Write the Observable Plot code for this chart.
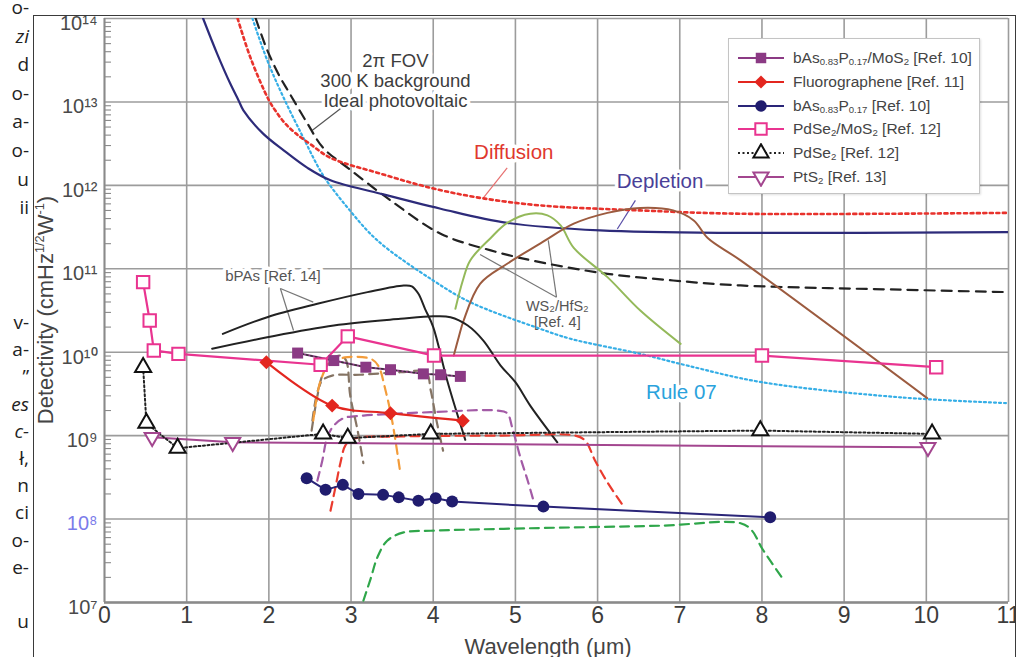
<!DOCTYPE html>
<html>
<head>
<meta charset="utf-8">
<script src="https://cdn.jsdelivr.net/npm/d3@7"></script>
<script src="https://cdn.jsdelivr.net/npm/@observablehq/plot@0.6"></script>
<style>
  html, body { margin: 0; padding: 0; background: #fff; }
  body { width: 1033px; height: 657px; overflow: hidden; position: relative; font-family: "Liberation Sans", Arial, sans-serif; }
  .article { position: absolute; left: 0; width: 29px; text-align: right; font-family: "Open Sans", "Noto Sans", sans-serif; font-size: 19px; color: #222; white-space: nowrap; }
  #frame { position: absolute; left: 33px; top: 15px; width: 981px; height: 700px; border: 1px solid #3a3a3a; overflow: hidden; background: #fff; }
  #inner { position: absolute; left: -34px; top: -16px; width: 1033px; height: 657px; }
  #chart { position: absolute; left: 0; top: 0; }
  #legend { position: absolute; left: 728px; top: 38px; width: 250px; height: 154px; border: 1px solid #c4c4c4; background: #fff; box-shadow: 1px 1px 2px rgba(0,0,0,0.12); }
  .lrow { position: absolute; left: 0; height: 20px; width: 250px; }
  .lrow svg { position: absolute; left: 8px; top: 0; }
  .lrow span { position: absolute; left: 64px; top: 1px; font-size: 15.5px; color: #444; white-space: nowrap; line-height: 18px; }
  .lrow sub { font-size: 62%; vertical-align: -2px; line-height: 0; }
  .ytitle { position: absolute; left: 46px; top: 310px; transform: translate(-50%, -50%) rotate(-90deg); white-space: nowrap; font-size: 22px; color: #444; }
  .ytitle sup { font-size: 58%; vertical-align: 9px; line-height: 0; }
  .xtitle { position: absolute; left: 548px; top: 647px; transform: translate(-50%, -50%); white-space: nowrap; font-size: 22px; color: #444; }
</style>
</head>
<body>
<div class="article" id="artTop" style="top:-7px; line-height:28.6px;"></div>
<div class="article" id="artBottom" style="top:309px; line-height:27.2px;"></div>
<div id="frame">
  <div id="inner">
    <div id="chart"></div>
    <div id="legend"></div>
    <div class="ytitle">Detectivity (cmHz<sup>1/2</sup>W<sup>-1</sup>)</div>
    <div class="xtitle">Wavelength (μm)</div>
  </div>
</div>
<script>
// ---------- cropped article text on the left ----------
const articleTop = ["o-", "<i>zi</i>", "d", "o-", "a-", "o-", "u", "ii"];
const articleBottom = ["v-", "a-", "”", "<i>es</i>", "<i>c-</i>", "ł,", "n", "ci", "o-", "e-", "", "u"];

// ---------- axes ----------
const xTickValues = [0, 1, 2, 3, 4, 5, 6, 7, 8, 9, 10, 11];
const yTickValues = [1e7, 1e8, 1e9, 1e10, 1e11, 1e12, 1e13, 1e14];

// ---------- theoretical limits (wavelength µm, D* cmHz^1/2 W^-1) ----------
const depletion = [[1.20,1e14],[1.37,3.8e13],[1.53,1.66e13],[1.63,1.05e13],[1.69,7.94e12],[1.93,4.17e12],[2.18,2.63e12],[2.47,1.62e12],[2.75,1.15e12],[3.36,7.94e11],[4.09,5.25e11],[4.90,3.55e11],[6.03,2.88e11],[7.74,2.69e11],[11.0,2.75e11]];
const diffusion = [[1.62,1e14],[1.78,3.31e13],[2.0,1.05e13],[2.09,7.59e12],[2.20,5.5e12],[2.33,4.17e12],[2.51,3.09e12],[2.75,2.14e12],[3.36,1.38e12],[3.97,9.33e11],[4.57,7.08e11],[5.30,5.75e11],[6.52,5.01e11],[7.74,4.57e11],[11.0,4.68e11]];
const idealPV = [[1.84,1e14],[1.98,4.17e13],[2.14,1.95e13],[2.23,1.38e13],[2.47,5.5e12],[2.66,2.82e12],[2.96,1.62e12],[3.48,6.61e11],[4.09,2.63e11],[4.70,1.66e11],[5.30,1.2e11],[6.12,8.71e10],[6.92,7.24e10],[7.74,6.31e10],[9.68,5.62e10],[11.0,5.25e10]];
const rule07 = [[1.80,1e14],[1.98,3.16e13],[2.18,1.12e13],[2.42,3.72e12],[2.66,1.32e12],[2.96,5.37e11],[3.32,2.19e11],[4.0,7.24e10],[4.45,3.98e10],[5.30,1.91e10],[5.67,1.45e10],[6.52,9.55e9],[7.09,6.92e9],[8.0,4.37e9],[9.68,2.88e9],[11.0,2.45e9]];

// ---------- reference curves ----------
const bpasUpper = [[1.44,1.66e10],[1.98,2.63e10],[2.59,3.8e10],[3.20,5.25e10],[3.64,6.31e10],[3.74,6.17e10],[3.82,5.01e10],[3.90,3.31e10],[4.0,2.0e10],[4.17,4.57e9],[4.39,8.91e8]];
const bpasLower = [[1.31,1.1e10],[1.98,1.51e10],[2.79,2.09e10],[3.60,2.51e10],[4.0,2.69e10],[4.21,2.63e10],[4.42,2.09e10],[4.61,1.38e10],[4.82,6.92e9],[5.0,4.37e9],[5.18,2.29e9],[5.51,8.32e8]];
const ws2 = [[4.27,3.31e10],[4.36,7.24e10],[4.45,1.26e11],[4.70,2.34e11],[4.90,3.55e11],[5.18,4.57e11],[5.39,4.37e11],[5.55,3.31e11],[5.71,1.78e11],[6.12,7.94e10],[6.52,3.16e10],[7.01,1.26e10]];
const hfs2 = [[4.25,9.12e9],[4.31,1.51e10],[4.37,2.4e10],[4.57,6.61e10],[4.90,1.15e11],[5.30,2.0e11],[5.71,3.47e11],[6.12,4.68e11],[6.52,5.37e11],[6.92,5.01e11],[7.17,3.8e11],[7.34,2.34e11],[7.74,1.26e11],[10.01,2.82e9]];
const dashOrange = [[2.54,1.51e9],[2.63,4.57e9],[2.75,7.59e9],[2.96,8.71e9],[3.24,8.32e9],[3.33,6.92e9],[3.42,3.47e9],[3.50,1.51e9],[3.60,3.55e8]];
const dashGrayA = [[2.53,1.51e9],[2.58,3.02e9],[2.65,4.57e9],[2.77,5.25e9],[3.11,5.37e9],[3.60,5.75e9],[3.91,5.75e9],[3.97,3.47e9],[4.04,1.51e9],[4.12,6.61e8]];
const dashGrayB = [[2.52,1.15e9],[2.58,2.63e9],[2.65,5.25e9],[2.75,7.94e9],[2.87,9.12e9],[2.94,7.94e9],[2.99,3.02e9],[3.08,1.15e9],[3.15,4.68e8]];
const dashPurple = [[2.59,2.88e8],[2.65,5.01e8],[2.71,9.55e8],[2.79,1.32e9],[2.91,1.62e9],[3.15,1.74e9],[3.97,1.91e9],[4.78,2.0e9],[4.90,1.86e9],[4.96,1.26e9],[5.06,5.5e8],[5.15,2.88e8],[5.22,1.66e8]];
const dashRed = [[2.75,1.26e8],[2.81,2.4e8],[2.87,4.68e8],[2.93,7.59e8],[3.02,9.12e8],[3.60,9.77e8],[4.82,1e9],[5.73,1e9],[5.85,8.71e8],[5.97,5.01e8],[6.12,2.75e8],[6.31,1.45e8]];
const dashGreen = [[3.15,1.05e7],[3.24,1.95e7],[3.32,3.47e7],[3.44,5.5e7],[3.64,6.92e7],[3.97,7.24e7],[5.18,7.76e7],[6.76,8.32e7],[7.74,8.91e7],[7.88,7.24e7],[8.0,4.47e7],[8.25,1.95e7]];

// ---------- measured series (legend) ----------
const bAsMoS2 = [[2.35,9.77e9],[2.79,7.94e9],[3.18,6.61e9],[3.48,6.17e9],[3.88,5.5e9],[4.09,5.37e9],[4.33,5.13e9]];
const fluorographene = [[1.97,7.59e9],[2.77,2.29e9],[3.48,1.86e9],[4.36,1.51e9]];
const bAsP = [[2.46,3.09e8],[2.69,2.24e8],[2.90,2.57e8],[3.09,2.0e8],[3.39,1.95e8],[3.58,1.82e8],[3.82,1.66e8],[4.03,1.78e8],[4.23,1.62e8],[5.34,1.41e8],[8.10,1.05e8]];
const pdse2MoS2 = [[0.47,6.92e10],[0.55,2.4e10],[0.60,1.05e10],[0.90,9.55e9],[2.63,7.08e9],[2.96,1.55e10],[4.01,9.12e9],[8.0,9.12e9],[10.12,6.61e9]];
const pdse2 = [[0.47,6.61e9],[0.51,1.41e9],[0.89,7.08e8],[2.66,1.05e9],[2.96,9.33e8],[3.97,1.05e9],[7.98,1.15e9],[10.07,1.05e9]];
const pts2 = [[0.58,9.55e8],[1.56,8.32e8],[10.02,7.24e8]];

const legendNames = [
  "bAs<sub>0.83</sub>P<sub>0.17</sub>/MoS<sub>2</sub> [Ref. 10]",
  "Fluorographene [Ref. 11]",
  "bAs<sub>0.83</sub>P<sub>0.17</sub> [Ref. 10]",
  "PdSe<sub>2</sub>/MoS<sub>2</sub> [Ref. 12]",
  "PdSe<sub>2</sub> [Ref. 12]",
  "PtS<sub>2</sub> [Ref. 13]"
];

// ---------- annotations ----------
const annotations = [
  {text: "2π FOV\n300 K background\nIdeal photovoltaic", x: 3.54, y: 1.82e13, color: "#3d3d3d", size: 18.5, lh: 1.08},
  {text: "Diffusion", x: 4.98, y: 2.45e12, color: "#e0382e", size: 20.5, lh: 1},
  {text: "Depletion", x: 6.76, y: 1.12e12, color: "#4a3f98", size: 20.5, lh: 1},
  {text: "Rule 07", x: 7.02, y: 3.3e9, color: "#2aa2dc", size: 20.5, lh: 1},
  {text: "bPAs [Ref. 14]", x: 2.05, y: 8.1e10, color: "#555", size: 15, lh: 1},
  {text: "WS₂/HfS₂\n[Ref. 4]", x: 5.51, y: 2.88e10, color: "#555", size: 14.5, lh: 1.1}
];
const leaders = [
  {x1: 2.87, y1: 8.3e12, x2: 2.53, y2: 4.57e12, color: "#555"},
  {x1: 4.90, y1: 1.62e12, x2: 4.61, y2: 7.08e11, color: "#e77070"},
  {x1: 6.46, y1: 6.6e11, x2: 6.24, y2: 3.0e11, color: "#5a4fa8"},
  {x1: 2.14, y1: 5.8e10, x2: 2.54, y2: 3.98e10, color: "#777"},
  {x1: 2.14, y1: 5.8e10, x2: 2.30, y2: 1.82e10, color: "#777"},
  {x1: 5.50, y1: 4.57e10, x2: 5.40, y2: 2.19e11, color: "#777"},
  {x1: 5.50, y1: 4.57e10, x2: 4.57, y2: 1.48e11, color: "#777"}
];

// ---------- build page ----------
document.getElementById("artTop").innerHTML = articleTop.map(t => `<div>${t || "&nbsp;"}</div>`).join("");
document.getElementById("artBottom").innerHTML = articleBottom.map(t => `<div>${t || "&nbsp;"}</div>`).join("");

const SUP = {"0":"⁰","1":"¹","2":"²","3":"³","4":"⁴","5":"⁵","6":"⁶","7":"⁷","8":"⁸","9":"⁹"};
const powFmt = v => "10" + String(Math.round(Math.log10(v))).split("").map(c => SUP[c]).join("");
const yMinor = d3.range(7, 14).flatMap(k => d3.range(2, 10).map(m => m * 10 ** k));

const sqrt3 = Math.sqrt(3);
const triangleDown = {
  draw(context, size) {
    const y = -Math.sqrt(size / (sqrt3 * 3));
    context.moveTo(0, -y * 2);
    context.lineTo(-sqrt3 * y, y);
    context.lineTo(sqrt3 * y, y);
    context.closePath();
  }
};

const X = d => d[0], Y = d => d[1];
const curve = (data, o) => Plot.line(data, {x: X, y: Y, curve: "catmull-rom", clip: true, ...o});

const gridColor = "#9c9c9c";
const FONT = "Liberation Sans, Arial, sans-serif";

const chart = Plot.plot({
  width: 1033,
  height: 657,
  marginLeft: 104,
  marginRight: 25,
  marginTop: 18,
  marginBottom: 55,
  x: {domain: [0, 11]},
  y: {type: "log", domain: [1e7, 1e14]},
  color: {type: "identity"},
  style: {fontFamily: FONT, background: "transparent", overflow: "visible"},
  marks: [
    // grid & frame
    Plot.ruleX(xTickValues, {stroke: gridColor, strokeWidth: 1.6}),
    Plot.ruleY(yTickValues, {stroke: gridColor, strokeWidth: 1.6}),
    Plot.ruleY([1e7], {stroke: "#8a8a8a", strokeWidth: 2.6}),
    Plot.ruleX([0], {stroke: "#8a8a8a", strokeWidth: 1.8}),
    Plot.ruleY(yMinor, {x1: 0, x2: 0.085, stroke: "#8a8a8a", strokeWidth: 1.1}),
    // axes
    Plot.axisX({ticks: xTickValues, tickSize: 0, tickPadding: 4, tickFormat: d => String(d), fontSize: 23, fill: "#3c3c3c", label: null, fontFamily: "Liberation Sans Narrow, Arial Narrow, Liberation Sans, Arial, sans-serif"}),
    Plot.axisY({ticks: yTickValues.filter(v => v !== 1e8), tickSize: 0, tickPadding: 7, tickFormat: powFmt, fontSize: 20, fill: "#4a4a4a", label: null, dy: 5}),
    Plot.axisY({ticks: [1e8], tickSize: 0, tickPadding: 7, tickFormat: powFmt, fontSize: 20, fill: "#7b7bea", label: null, dy: 5}),
    // annotations (white halo masks the grid)
    ...annotations.map(a => Plot.text([a], {x: "x", y: "y", text: "text", fill: a.color, stroke: "white", strokeWidth: 7, fontSize: a.size, lineHeight: a.lh})),
    Plot.link(leaders, {x1: "x1", y1: "y1", x2: "x2", y2: "y2", stroke: "color", strokeWidth: 1.2}),
    // theoretical limits
    curve(rule07, {stroke: "#35aee6", strokeWidth: 2.2, strokeDasharray: "2,3"}),
    curve(idealPV, {stroke: "#222", strokeWidth: 2.2, strokeDasharray: "10,7"}),
    curve(diffusion, {stroke: "#e8322c", strokeWidth: 2.6, strokeDasharray: "3,3.5"}),
    curve(depletion, {stroke: "#2d2b7a", strokeWidth: 2.2}),
    // literature curves
    curve(ws2, {stroke: "#94b95a", strokeWidth: 2}),
    curve(hfs2, {stroke: "#9c5b3f", strokeWidth: 2}),
    curve(bpasUpper, {stroke: "#222", strokeWidth: 2}),
    curve(bpasLower, {stroke: "#222", strokeWidth: 2}),
    curve(dashGreen, {stroke: "#2fa64a", strokeWidth: 2.2, strokeDasharray: "9,6"}),
    curve(dashRed, {stroke: "#ea3b2e", strokeWidth: 2.2, strokeDasharray: "9,6"}),
    curve(dashPurple, {stroke: "#a35ba6", strokeWidth: 2.2, strokeDasharray: "9,6"}),
    curve(dashGrayA, {stroke: "#857464", strokeWidth: 2.2, strokeDasharray: "9,6"}),
    curve(dashGrayB, {stroke: "#857464", strokeWidth: 2.2, strokeDasharray: "9,6"}),
    curve(dashOrange, {stroke: "#f39c3a", strokeWidth: 2.2, strokeDasharray: "9,6"}),
    // measured series
    Plot.line(pts2, {x: X, y: Y, stroke: "#a3468f", strokeWidth: 2}),
    Plot.line(pdse2, {x: X, y: Y, stroke: "#222", strokeWidth: 2, strokeDasharray: "2,2.5"}),
    Plot.line(bAsP, {x: X, y: Y, stroke: "#2a2578", strokeWidth: 2}),
    Plot.line(bAsMoS2, {x: X, y: Y, stroke: "#8b3a84", strokeWidth: 2}),
    Plot.line(bAsMoS2, {x: X, y: Y, stroke: "#333", strokeWidth: 1.4, strokeDasharray: "1.5,3"}),
    Plot.line(fluorographene, {x: X, y: Y, curve: "catmull-rom", stroke: "#e3261f", strokeWidth: 2.2}),
    Plot.line(pdse2MoS2, {x: X, y: Y, stroke: "#e93490", strokeWidth: 2.2}),
    Plot.dot(bAsMoS2, {x: X, y: Y, symbol: "square", r: 6.2, fill: "#8b3a84"}),
    Plot.dot(fluorographene, {x: X, y: Y, symbol: "diamond2", r: 6.3, fill: "#e3261f"}),
    Plot.dot(bAsP, {x: X, y: Y, symbol: "circle", r: 6, fill: "#201c6e"}),
    Plot.dot(pdse2MoS2, {x: X, y: Y, symbol: "square", r: 7, fill: "white", stroke: "#e93490", strokeWidth: 2}),
    Plot.dot(pdse2, {x: X, y: Y, symbol: "triangle", r: 6, fill: "white", stroke: "#111", strokeWidth: 2}),
    Plot.dot(pts2, {x: X, y: Y, symbol: triangleDown, r: 5.6, fill: "white", stroke: "#a3468f", strokeWidth: 2})
  ]
});
document.getElementById("chart").appendChild(chart);

// ---------- legend ----------
const legendStyles = [
  {stroke: "#8b3a84", dash: null, sym: "square", fill: "#8b3a84", mstroke: "none"},
  {stroke: "#e3261f", dash: null, sym: "diamond2", fill: "#e3261f", mstroke: "none"},
  {stroke: "#2a2578", dash: null, sym: "circle", fill: "#201c6e", mstroke: "none"},
  {stroke: "#e93490", dash: null, sym: "square", fill: "white", mstroke: "#e93490", big: true},
  {stroke: "#222", dash: "2,2.5", sym: "triangle", fill: "white", mstroke: "#111"},
  {stroke: "#a3468f", dash: null, sym: "triangleDown", fill: "white", mstroke: "#a3468f"}
];
const symbolTypes = {square: d3.symbolSquare, diamond2: d3.symbolDiamond2, circle: d3.symbolCircle, triangle: d3.symbolTriangle, triangleDown: triangleDown};
const legend = d3.select("#legend");
legendNames.forEach((name, i) => {
  const s = legendStyles[i];
  const row = legend.append("div").attr("class", "lrow").style("top", (9 + i * 23.8) + "px");
  const svg = row.append("svg").attr("width", 48).attr("height", 20);
  svg.append("line").attr("x1", 1).attr("x2", 47).attr("y1", 10).attr("y2", 10)
    .attr("stroke", s.stroke).attr("stroke-width", 2).attr("stroke-dasharray", s.dash);
  const size = s.sym === "square" ? (s.big ? 130 : 110) : s.sym === "diamond2" ? 110 : s.sym === "circle" ? 105 : 100;
  svg.append("path").attr("transform", "translate(24,10)")
    .attr("d", d3.symbol(symbolTypes[s.sym], size)())
    .attr("fill", s.fill).attr("stroke", s.mstroke).attr("stroke-width", 2);
  row.append("span").html(name);
});
</script>
</body>
</html>
